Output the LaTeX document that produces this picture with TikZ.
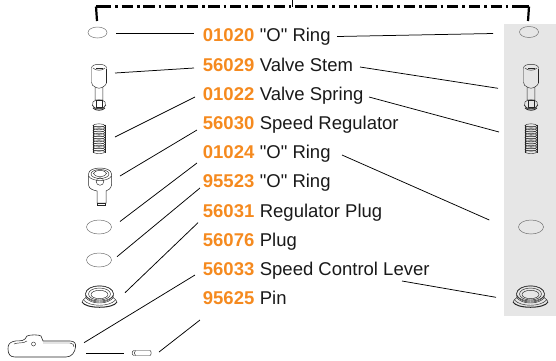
\documentclass[tikz,border=0pt]{standalone}
\usepackage{fontspec}
\setmainfont{Liberation Sans}
\definecolor{partnum}{HTML}{F58A1F}
\definecolor{panel}{HTML}{E6E6E6}
\tikzset{
  conn/.style={draw=black,line width=0.75pt},
  frame/.style={draw=black,line width=2.2pt},
  part/.style={draw=black!85,line width=0.45pt},
  ringline/.style={draw=black!55,line width=0.5pt},
  lab/.style={anchor=base west,inner sep=0pt,font=\fontsize{18.5}{20}\selectfont,text=black!90},
  stem/.pic={
    \draw[part] (-7.5,-12) .. controls (-7.5,-17) and (7.5,-17) .. (7.5,-12) -- (7.5,3) .. controls (7.5,5) and (5,6) .. (3.8,7)
      -- (3.8,20) -- (-3.8,20) -- (-3.8,7) .. controls (-6,6) and (-7.5,5) .. (-7.5,2) -- cycle;
    \draw[part] (-6,-12) .. controls (-3,-9) and (3,-9) .. (6,-12);
    \draw[part,line width=1pt] (7.5,-11) -- (7.5,3);
    \draw[part,line width=0.8pt] (-3,-12) -- (4,-12);
    \draw[part] (-3.8,7) .. controls (-2,8.5) and (2,8.5) .. (3.8,7);
    \draw[part] (-6,22) .. controls (-4,19) and (4,19) .. (6,22) .. controls (7,26) and (6,29) .. (0,29) .. controls (-6,29) and (-7,26) .. (-6,22);
    \draw[part] (-7,25) .. controls (-4,30) and (4,30) .. (7,25);
    \draw[part,line width=0.9pt] (-6,28) .. controls (-3,31) and (3,31) .. (6,28);
    \draw[part] (-3,20) rectangle (3,27);
  },
  spring/.pic={
    \draw[part] (-6,-14) -- (-6,14) (6,-14) -- (6,14);
    \foreach \yy in {-13,-10.6,...,13.5} {
      \draw[part] (0,\yy) ellipse (6 and 1.6);
    }
  },
  plugp/.pic={
    \draw[part,line width=1pt] (-17.5,2) .. controls (-14,9) and (14,9) .. (17.5,2);
    \draw[part] (-17.5,2) .. controls (-17.5,0) and (-15,-1) .. (-14,-2) -- (-14,-6) .. controls (-14,-17) and (14,-17) .. (14,-6) -- (14,-2) .. controls (15,-1) and (17.5,0) .. (17.5,2);
    \draw[part] (0,-6) ellipse (14 and 8);
    \draw[part] (0,-6) ellipse (11 and 6);
    \draw[part] (0,-5.5) ellipse (8.5 and 4.2);
    \draw[part] (-14,-5) .. controls (-10,3) and (10,3) .. (14,-5);
    \draw[part] (-14,-3) .. controls (-10,5) and (10,5) .. (14,-3);
    \draw[part] (-16,0) .. controls (-10,7) and (10,7) .. (16,0);
  }
}
\begin{document}
\begin{tikzpicture}[x=1pt,y=-1pt]
\useasboundingbox (0,0) rectangle (556,360);
\fill[panel] (504,24) rectangle (556,316);
% frame
\coordinate (fa) at (97,21);
\coordinate (fb) at (97,6.5);
\coordinate (fc) at (528,6.5);
\coordinate (fd) at (528,21);
\coordinate (ft) at (292,0);
\coordinate (fm) at (292,6.5);
\draw[frame,dash pattern=on 11.3pt off 4pt on 2.6pt off 3.8pt,dash phase=18.8pt] (fb) -- (fc);
\draw[frame] (96,6.5) -- (fa);
\draw[frame] (96,6.5) -- (107,6.5);
\draw[frame] (529,6.5) -- (fd);
\draw[frame] (518,6.5) -- (529,6.5);
\draw[draw=black,line width=1pt] (ft) -- (fm);
% labels
\foreach \nm/\yy/\pn/\tx in {a/41.8/01020/\textquotedbl O\textquotedbl{} Ring,b/71/56029/Valve Stem,c/100.2/01022/Valve Spring,d/129.4/56030/Speed Regulator,e/158.6/01024/\textquotedbl O\textquotedbl{} Ring,f/187.8/95523/\textquotedbl O\textquotedbl{} Ring,g/217/56031/Regulator Plug,h/246.2/56076/Plug,i/275.4/56033/Speed Control Lever,j/304.6/95625/Pin} {
  \node[lab] (lab\nm) at (202.7,\yy) {{\bfseries\color{partnum}\pn}\hspace{5.5pt}\tx};
}
% left parts
\draw[ringline] (97.5,32.5) ellipse (9.5 and 5.5);
\pic at (99,80) {stem};
\pic at (99,138.5) {spring};
% regulator
\draw[part,line width=0.5pt] (88.5,174) .. controls (88.5,166) and (111.5,166) .. (111.5,174) -- (111.5,185) .. controls (111,189) and (108,190) .. (106,191) -- (106,203) -- (97,203) -- (97,191) .. controls (93,190) and (89,189) .. (88.5,185) -- cycle;
\draw[part] (100,174) ellipse (9 and 4.5);
\draw[part] (100,173.5) ellipse (6.5 and 3);
\draw[part] (100,181.5) circle (3.8);
\draw[part] (97.5,203) rectangle (105.5,205.5);
\draw[part] (88.5,176) .. controls (92,182) and (108,182) .. (111.5,176);
% o-rings
\draw[ringline] (99,227) ellipse (12.5 and 7);
\draw[ringline] (99,260) ellipse (12.5 and 7);
\pic at (99.5,300) {plugp};
% lever
\draw[part,line width=0.6pt] (13,341.5) .. controls (17,340) and (22,342) .. (25,339) -- (27,336) .. controls (30,334.5) and (39,334.5) .. (41,336) -- (43,341) -- (70,341) .. controls (75,341) and (76,344) .. (75.5,347) .. controls (75,352) and (72,357) .. (66,357) -- (15,357) .. controls (10,357) and (8,354) .. (8,349) .. controls (8,345) and (9,343) .. (13,341.5) -- cycle;
\draw[part] (43,343) -- (70,343) .. controls (73,343) and (74,345) .. (74,347);
\draw[part] (14,344) .. controls (18,342) and (23,344) .. (27,341);
\draw[part] (33.5,344) circle (2);
% pin
\draw[part] (134,350.5) -- (150,350.5) .. controls (151.5,350.5) and (151.5,355.5) .. (150,355.5) -- (134,355.5) .. controls (131.5,355.5) and (131.5,350.5) .. (134,350.5) -- cycle;
\draw[part] (135.5,350.5) .. controls (134,352) and (134,354) .. (135.5,355.5);
% right parts
\draw[ringline] (529,32) ellipse (9.5 and 5.5);
\pic at (531,80) {stem};
\pic at (531,138.5) {spring};
\draw[ringline] (531,227) ellipse (12.5 and 7);
\pic at (530.5,300) {plugp};
% connector ends
\foreach \nm/\xa/\ya/\xb/\yb in {
 a/116/33.5/194/33.5,b/115/73/194/68,c/115/137/195/97,d/120/176/197/130,e/120/221.5/197/163,
 f/117/256.7/200/188,g/125/292.7/198/222.7,h/84/342.7/195/275,i/86/353/124/353,j/159/352/200/320,
 k/337/36.5/493/33.5,l/360/67/498/88.3,m/369/97/499/132,n/342/155/489.3/220,o/402/281/496/297.3} {
  \coordinate (s\nm) at (\xa,\ya);
  \coordinate (t\nm) at (\xb,\yb);
  \draw[conn] (s\nm) -- (t\nm);
}
\end{tikzpicture}
\end{document}
